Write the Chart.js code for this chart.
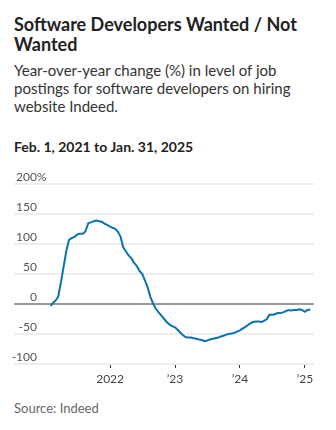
<!DOCTYPE html>
<html lang="en">

<head>
    <meta charset="UTF-8">
    <title>Software Developers Wanted / Not Wanted</title>
    <script src="https://cdn.jsdelivr.net/npm/chart.js"></script>
    <style>
        body,
        html {
            margin: 0;
            padding: 0;
            width: 336px;
            height: 430px;
            overflow: hidden;
            background: #fff;
            font-family: Lato, sans-serif;
        }

        .txt {
            position: absolute;
            left: 14px;
            white-space: nowrap;
        }

        #title {
            top: 14px;
            font-size: 18px;
            font-weight: 700;
            line-height: 20px;
            color: #222;
        }

        #subtitle {
            top: 61px;
            font-size: 15px;
            line-height: 18px;
            color: #333;
        }

        #range {
            top: 138px;
            font-size: 14px;
            font-weight: 700;
            color: #222;
        }

        #source {
            top: 400px;
            font-size: 13px;
            color: #666;
        }

        #wrap {
            position: absolute;
            left: 0;
            top: 160px;
            width: 336px;
            height: 240px;
        }
    </style>
</head>

<body>
    <div id="title" class="txt">Software Developers Wanted / Not<br>Wanted</div>
    <div id="subtitle" class="txt">Year-over-year change (%) in level of job<br>postings for software developers on hiring<br>website Indeed.</div>
    <div id="range" class="txt">Feb. 1, 2021 to Jan. 31, 2025</div>
    <div id="wrap"><canvas id="chart" width="336" height="240"></canvas></div>
    <div id="source" class="txt">Source: Indeed</div>
    <script>
        // semi-monthly readings
        const dates = [
            '2021-02-01', '2021-02-15', '2021-03-01', '2021-03-15', '2021-04-01', '2021-04-15',
            '2021-05-01', '2021-05-15', '2021-06-01', '2021-06-15', '2021-07-01', '2021-07-15',
            '2021-08-01', '2021-08-15', '2021-09-01', '2021-09-15', '2021-10-01', '2021-10-15',
            '2021-11-01', '2021-11-15', '2021-12-01', '2021-12-15',
            '2022-01-01', '2022-01-15', '2022-02-01', '2022-02-15', '2022-03-01', '2022-03-15',
            '2022-04-01', '2022-04-15', '2022-05-01', '2022-05-15', '2022-06-01', '2022-06-15',
            '2022-07-01', '2022-07-15', '2022-08-01', '2022-08-15', '2022-09-01', '2022-09-15',
            '2022-10-01', '2022-10-15', '2022-11-01', '2022-11-15', '2022-12-01', '2022-12-15',
            '2023-01-01', '2023-01-15', '2023-02-01', '2023-02-15', '2023-03-01', '2023-03-15',
            '2023-04-01', '2023-04-15', '2023-05-01', '2023-05-15', '2023-06-01', '2023-06-15',
            '2023-07-01', '2023-07-15', '2023-08-01', '2023-08-15', '2023-09-01', '2023-09-15',
            '2023-10-01', '2023-10-15', '2023-11-01', '2023-11-15', '2023-12-01', '2023-12-15',
            '2024-01-01', '2024-01-15', '2024-02-01', '2024-02-15', '2024-03-01', '2024-03-15',
            '2024-04-01', '2024-04-15', '2024-05-01', '2024-05-15', '2024-06-01', '2024-06-15',
            '2024-07-01', '2024-07-15', '2024-08-01', '2024-08-15', '2024-09-01', '2024-09-15',
            '2024-10-01', '2024-10-15', '2024-11-01', '2024-11-15', '2024-12-01', '2024-12-15',
            '2025-01-01', '2025-01-15', '2025-01-31'
        ];
        const changePct = [
            -3, 2, 6, 12, 38, 63,
            90, 107, 110, 112, 116, 117,
            117, 121, 135, 136, 138, 139,
            138, 137, 134, 132,
            129, 127, 125, 120, 112, 95,
            87, 81, 76, 69, 63, 55,
            50, 40, 27, 12, 0, -8,
            -14, -19, -25, -30, -34, -37,
            -39, -43, -48, -52, -55, -56,
            -56, -57, -58, -59, -60, -62,
            -61, -59, -58, -57, -56, -54,
            -53, -51, -50, -49, -48, -46,
            -44, -41, -38, -35, -32, -30,
            -29, -29, -30, -28, -25, -18,
            -18, -17, -15, -15, -14, -12,
            -10, -11, -10, -10, -9, -10,
            -13, -10, -9
        ];

        const xTicks = [2022, 2023, 2024, 2025];
        const xTickLabels = ['2022', '\u201923', '\u201924', '\u201925'];
        const yTicks = [-100, -50, 0, 50, 100, 150, 200];

        function toYear(iso) {
            const d = new Date(iso + 'T00:00:00Z');
            const y = d.getUTCFullYear();
            const start = Date.UTC(y, 0, 1);
            const end = Date.UTC(y + 1, 0, 1);
            return y + (d.getTime() - start) / (end - start);
        }

        const points = dates.map((d, i) => ({ x: toYear(d), y: changePct[i] }));

        // y labels sit above their gridline, numbers right-aligned, % hanging
        const yLabels = {
            id: 'yLabels',
            afterDraw(chart) {
                const ctx = chart.ctx;
                const y = chart.scales.y;
                ctx.save();
                ctx.font = '12px Lato';
                ctx.fillStyle = '#555';
                ctx.textBaseline = 'alphabetic';
                yTicks.forEach(v => {
                    const py = y.getPixelForValue(v) - 3;
                    ctx.textAlign = 'right';
                    ctx.fillText(String(v), 37, py);
                    if (v === yTicks[yTicks.length - 1]) {
                        ctx.textAlign = 'left';
                        ctx.fillText('%', 37, py);
                    }
                });
                ctx.restore();
            }
        };

        new Chart(document.getElementById('chart').getContext('2d'), {
            type: 'line',
            data: {
                datasets: [{
                    data: points,
                    borderColor: '#0a72b0',
                    borderWidth: 2,
                    pointRadius: 0,
                    tension: 0,
                    fill: false
                }]
            },
            options: {
                responsive: false,
                animation: false,
                devicePixelRatio: 1,
                layout: { padding: { left: 14, right: 22, top: 24, bottom: 0 } },
                plugins: { legend: { display: false }, tooltip: { enabled: false } },
                scales: {
                    x: {
                        type: 'linear',
                        min: 2020.52,
                        max: 2025.14,
                        afterBuildTicks: s => { s.ticks = xTicks.map(v => ({ value: v })); },
                        afterFit: s => { s.height = 36; },
                        border: { display: false },
                        grid: { drawOnChartArea: false, drawTicks: true, tickLength: 4, color: '#333', lineWidth: 1 },
                        ticks: {
                            autoSkip: false,
                            maxRotation: 0,
                            padding: 4,
                            color: '#444',
                            font: { family: 'Lato', size: 12 },
                            callback: v => xTickLabels[xTicks.indexOf(v)]
                        }
                    },
                    y: {
                        min: -100,
                        max: 200,
                        afterBuildTicks: s => { s.ticks = yTicks.map(v => ({ value: v })); },
                        afterFit: s => { s.width = 0; },
                        border: { display: false },
                        grid: {
                            drawTicks: false,
                            color: c => c.tick && c.tick.value === 0 ? '#999' : '#eeeeee',
                            lineWidth: 2
                        },
                        ticks: { display: false }
                    }
                }
            },
            plugins: [yLabels]
        });
    </script>
</body>

</html>
